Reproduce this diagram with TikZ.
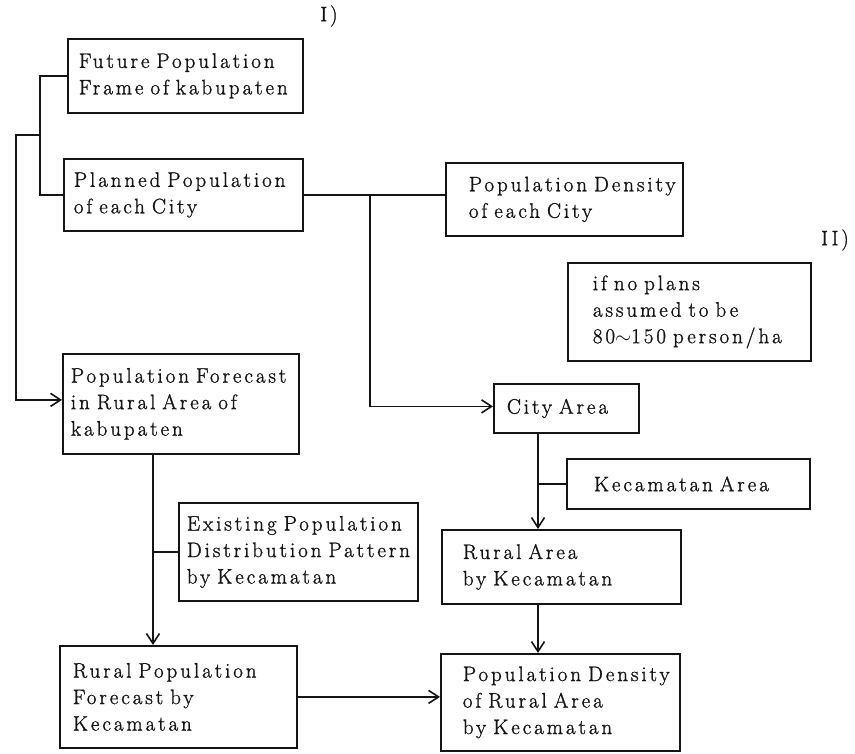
\documentclass[tikz,border=0pt]{standalone}
\usepackage{fontspec}
\setmainfont{Latin Modern Roman}[LetterSpace=14, FakeBold=1.2]
\usepackage{tikz}
\usetikzlibrary{arrows.meta}
\definecolor{inkblack}{HTML}{141414}

\tikzset{
  pbox/.style n args={3}{draw=inkblack, line width=1.8pt, anchor=north west, align=left,
    inner xsep=3pt, inner ysep=0pt, text width=#1-6pt, minimum height=#2,
    execute at begin node={\leftskip=#3\relax}},
  flow/.style={draw=inkblack, line width=1.8pt},
  arr/.style={flow, -{Straight Barb[length=10pt, width=13pt, line width=1.6pt]}}
}

\begin{document}
\begin{tikzpicture}[x=1pt, y=-1pt, font=\fontsize{21}{26.5}\selectfont, text=inkblack]
  \useasboundingbox (0,0) rectangle (855,754);
  % boxes, left column
  \node[pbox={235pt}{74pt}{8pt}] (fut) at (67,38) {Future Population\\Frame of kabupaten};
  \node[pbox={239pt}{72pt}{7pt}] (plan) at (63,158) {Planned Population\\of each City};
  \node[pbox={236pt}{100pt}{5pt}] (fore) at (62,353) {Population Forecast\\in Rural Area of\\kabupaten};
  \node[pbox={239pt}{98pt}{5pt}] (exist) at (178,502) {Existing Population\\Distribution Pattern\\by Kecamatan};
  \node[pbox={237pt}{102pt}{10pt}] (rpf) at (59,645) {Rural Population\\Forecast by\\Kecamatan};
  % boxes, right column
  \node[pbox={237pt}{73pt}{20pt}] (dens) at (445,162) {Population Density\\of each City};
  \node[pbox={243pt}{98pt}{22pt}] (note) at (567,262) {if no plans\\assumed to be\\80$\sim$150 person/ha};
  \node[pbox={145pt}{49pt}{10pt}] (city) at (493,383) {City Area};
  \node[pbox={243pt}{50pt}{24pt}] (kec) at (566,458) {Kecamatan Area};
  \node[pbox={239pt}{74pt}{18pt}] (rural) at (441,529) {Rural Area\\by Kecamatan};
  \node[pbox={239pt}{97pt}{19pt}] (drd) at (440,653) {Population Density\\of Rural Area\\by Kecamatan};
  % marks
  \node (mark1) at (329,16) {I)};
  \node (mark2) at (835,240) {II)};
  % bracket on the left
  \coordinate (bl) at (40,135);
  \coordinate (lc) at (16,135);
  \draw[flow] (fut.west) -| (bl) |- (plan.west);
  \draw[arr] (bl) -- (lc) |- ([yshift=4pt]fore.west);
  % city branch
  \coordinate (jc) at (370,0);
  \draw[flow] (plan.east) -- (plan.east -| dens.west);
  \draw[arr] (jc |- plan.east) |- ([yshift=2pt]city.west);
  % rural forecast
  \coordinate (lx) at (153,0);
  \draw[arr] (lx |- fore.south) -- (lx |- rpf.north);
  \draw[flow] (exist.west) -- (lx |- exist.west);
  % areas
  \coordinate (rx) at (538,0);
  \draw[arr] (rx |- city.south) -- (rx |- rural.north);
  \draw[flow] (kec.west) -- (rx |- kec.west);
  \draw[arr] (rx |- rural.south) -- (rx |- drd.north);
  \draw[arr] (rpf.east) -- (rpf.east -| drd.west);
\end{tikzpicture}
\end{document}
